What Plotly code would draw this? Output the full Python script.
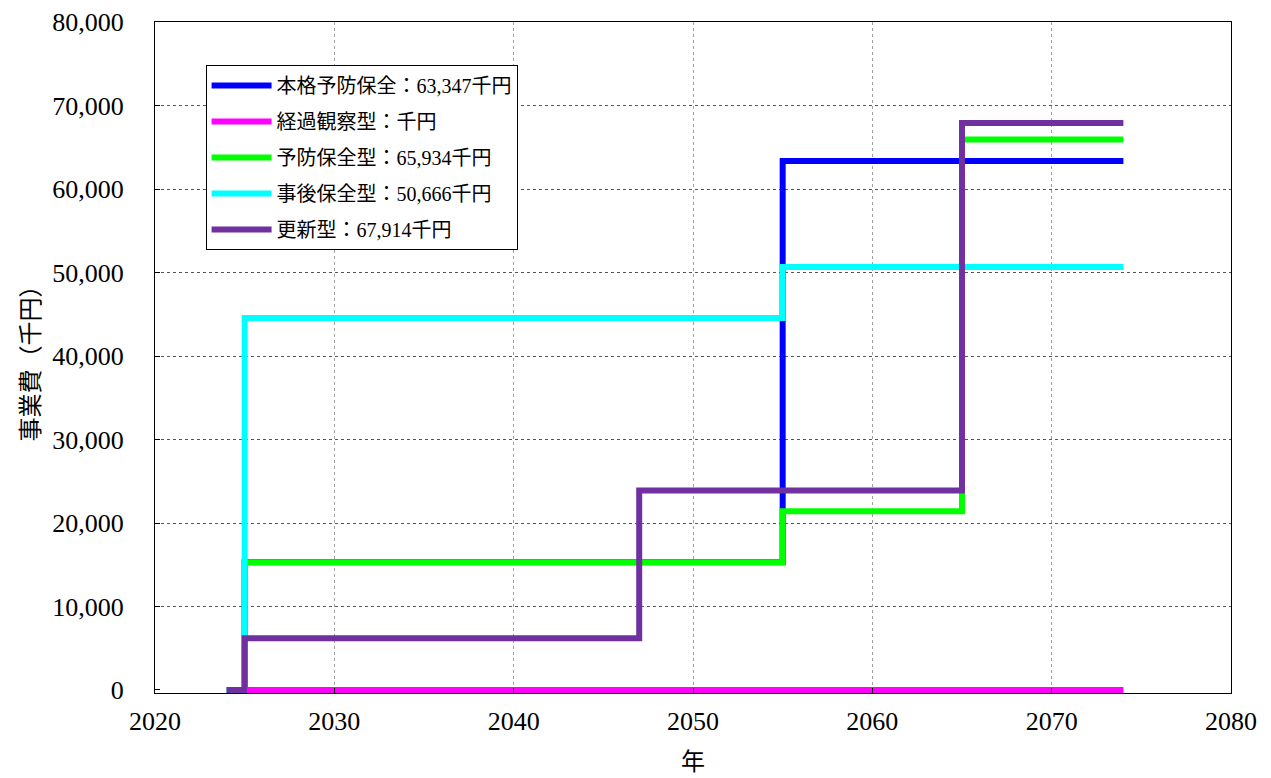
import plotly.graph_objects as go

# --- datos (puntos de cambio de cada escalón) ---
names = [
    "本格予防保全：63,347千円",
    "経過観察型：千円",
    "予防保全型：65,934千円",
    "事後保全型：50,666千円",
    "更新型：67,914千円",
]
colors = ["#0000FF", "#FF00FF", "#00FF00", "#00FFFF", "#7030A0"]

honkaku_x = [2024, 2025, 2055, 2074]
honkaku_y = [0, 15300, 63347, 63347]

keika_x = [2024, 2074]
keika_y = [0, 0]

yobo_x = [2024, 2025, 2055, 2065, 2074]
yobo_y = [0, 15300, 21400, 65934, 65934]

jigo_x = [2024, 2025, 2055, 2074]
jigo_y = [0, 44550, 50666, 50666]

koshin_x = [2024, 2025, 2047, 2065, 2074]
koshin_y = [0, 6200, 23900, 67914, 67914]

y_ticks = [0, 10000, 20000, 30000, 40000, 50000, 60000, 70000, 80000]

series = [
    (honkaku_x, honkaku_y),
    (keika_x, keika_y),
    (yobo_x, yobo_y),
    (jigo_x, jigo_y),
    (koshin_x, koshin_y),
]

FONT = "Liberation Serif, Times New Roman, Noto Sans CJK JP, serif"

fig = go.Figure()
for i, ((xs, ys), name, col) in enumerate(zip(series, names, colors)):
    fig.add_trace(go.Scatter(
        x=xs, y=ys, name=name, mode="lines",
        line=dict(color=col, width=6, shape="hv"),
        legendgroup=str(i), cliponaxis=False,
    ))

# la página tiene 8px de margen en body: se compensa en los márgenes
# el eje baja un poco por debajo de 0 para que la línea en 0 no quede cortada
fig.update_layout(
    width=1271, height=778,
    margin=dict(l=147, r=48, t=14, b=93, autoexpand=False),
    paper_bgcolor="white", plot_bgcolor="white",
    font=dict(family=FONT, size=26, color="black"),
    showlegend=True,
    legend=dict(
        x=0.047, y=0.936, xanchor="left", yanchor="top",
        bgcolor="white", bordercolor="black", borderwidth=1,
        font=dict(family=FONT, size=20, color="black"),
        tracegroupgap=7, itemwidth=60,
    ),
    xaxis=dict(
        range=[2020, 2080], dtick=10, tick0=2020,
        showline=True, linecolor="black", linewidth=1, mirror=True,
        ticks="inside", ticklen=5, tickcolor="black",
        showgrid=True, gridcolor="#a0a0a0", griddash="dot", gridwidth=1,
        zeroline=False, ticklabelstandoff=5, automargin=False,
        title=dict(text="年", font=dict(size=24), standoff=17),
    ),
    yaxis=dict(
        range=[-360, 80000], tickvals=y_ticks, tickformat=",",
        showline=True, linecolor="black", linewidth=1, mirror=True,
        ticks="inside", ticklen=5, tickcolor="black",
        showgrid=False,
        minor=dict(tickvals=y_ticks[1:], showgrid=True, gridcolor="#555555",
                   griddash="dot", gridwidth=1, ticks=""),
        zeroline=False, ticklabelstandoff=25, automargin=False,
        title=dict(text="事業費（千円）", font=dict(size=24), standoff=5),
    ),
)

fig.write_html("out.html")
